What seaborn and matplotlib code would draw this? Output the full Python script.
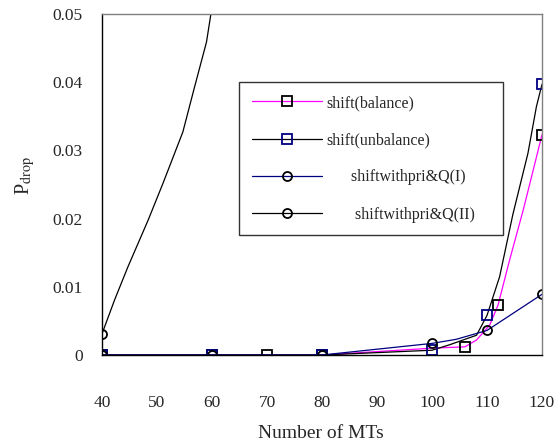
import matplotlib
matplotlib.use("Agg")
import matplotlib.pyplot as plt
import seaborn as sns

# values (line points,
# marker lists hold the plotted data points)
bal_x = [40, 60, 70, 80, 100, 106, 108.1, 110.5, 112, 114.1, 116.6, 118.4, 120]
bal_y = [0.0, 0.0, 0.0, 0.0, 0.001, 0.0012, 0.0022, 0.0044, 0.0073, 0.0139,
         0.0213, 0.0271, 0.0323]
bal_marks = [40, 60, 70, 80, 106, 112, 120]

unbal_x = [40, 60, 80, 100, 103.2, 108.1, 110, 112.3, 114.7, 117.45, 118.98, 120]
unbal_y = [0.0, 0.0, 0.0, 0.0007, 0.0015, 0.0029, 0.0058, 0.0115, 0.0206,
           0.0296, 0.0364, 0.0397]
unbal_marks = [40, 60, 80, 100, 110, 120]

q1_x = [40, 60, 80, 100, 104.4, 110, 120]
q1_y = [0.0, 0.0, 0.0, 0.0017, 0.0023, 0.0036, 0.0089]
q1_marks = [40, 60, 80, 100, 110, 120]

# Q(II) leaves the plot near 60
q2_x = [40, 42.3, 44.7, 48.4, 51.1, 54.7, 56.7, 59.0, 59.8, 60.4]
q2_y = [0.0031, 0.0081, 0.0129, 0.0198, 0.0252, 0.0327, 0.0389, 0.0459, 0.050, 0.056]
q2_marks = [40]

labels = ["shift(balance)", "shift(unbalance)",
          "shiftwithpri&Q(I)", "shiftwithpri&Q(II)"]
xticks = [40, 50, 60, 70, 80, 90, 100, 110, 120]
yticks = [0, 0.01, 0.02, 0.03, 0.04, 0.05]
ytick_labels = ["0", "0.01", "0.02", "0.03", "0.04", "0.05"]


def mark_idx(xs, marks):
    return [i for i, v in enumerate(xs) if v in marks]


sns.set_style("white")
plt.rcParams["font.family"] = ["Liberation Serif", "DejaVu Serif"]
plt.rcParams["mathtext.fontset"] = "stix"

fig = plt.figure(figsize=(5.54, 4.48), dpi=100)
ax = fig.add_axes([102 / 554, 1 - 355 / 448, 440 / 554, 341 / 448])

sq = dict(marker="s", markersize=7, markeredgewidth=1.3, fillstyle="none", lw=0.9)
ci = dict(marker="o", markersize=6.5, markeredgewidth=1.3, fillstyle="none", lw=0.9)

sns.lineplot(x=bal_x, y=bal_y, ax=ax, color="#ff00ff", markeredgecolor="black",
             markevery=mark_idx(bal_x, bal_marks), label=labels[0], **sq)
sns.lineplot(x=unbal_x, y=unbal_y, ax=ax, color="black", markeredgecolor="#000080",
             markevery=mark_idx(unbal_x, unbal_marks), label=labels[1], **sq)
sns.lineplot(x=q1_x, y=q1_y, ax=ax, color="#000080", markeredgecolor="black",
             markevery=mark_idx(q1_x, q1_marks), label="      " + labels[2], **ci)
sns.lineplot(x=q2_x, y=q2_y, ax=ax, color="black", markeredgecolor="black",
             markevery=mark_idx(q2_x, q2_marks),
             label="       " + labels[3] + "    ", **ci)

ax.set_xlim(40, 120)
ax.set_ylim(0, 0.05)
ax.set_xticks(xticks)
ax.set_xticklabels([str(v) for v in xticks])
ax.set_yticks(yticks)
ax.set_yticklabels(ytick_labels)
ax.tick_params(axis="x", direction="out", length=5, width=1, pad=24,
               labelsize=12.5, color="#444444")
ax.tick_params(axis="y", direction="out", length=5, width=1, pad=9,
               labelsize=12.5, color="black")

ax.spines["left"].set_color("black")
ax.spines["bottom"].set_color("black")
ax.spines["top"].set_color("#808080")
ax.spines["right"].set_color("#808080")
for s in ax.spines.values():
    s.set_linewidth(1)

ax.set_xlabel("Number of MTs", fontsize=14)
ax.xaxis.set_label_coords(0.497, -0.205)
ax.set_ylabel(r"P$_{\mathrm{drop}}$", fontsize=14.5)
ax.yaxis.set_label_coords(-0.148, 0.525)

leg = ax.legend(loc="upper left", bbox_to_anchor=(0.311, 0.80),
                borderaxespad=0, frameon=True, fancybox=False, shadow=False,
                fontsize=11.5, handlelength=4.4, numpoints=1,
                labelspacing=1.33, borderpad=0.8, handletextpad=0.3)
leg.get_frame().set_edgecolor("black")
leg.get_frame().set_linewidth(1)

fig.savefig("out.png", dpi=100)
